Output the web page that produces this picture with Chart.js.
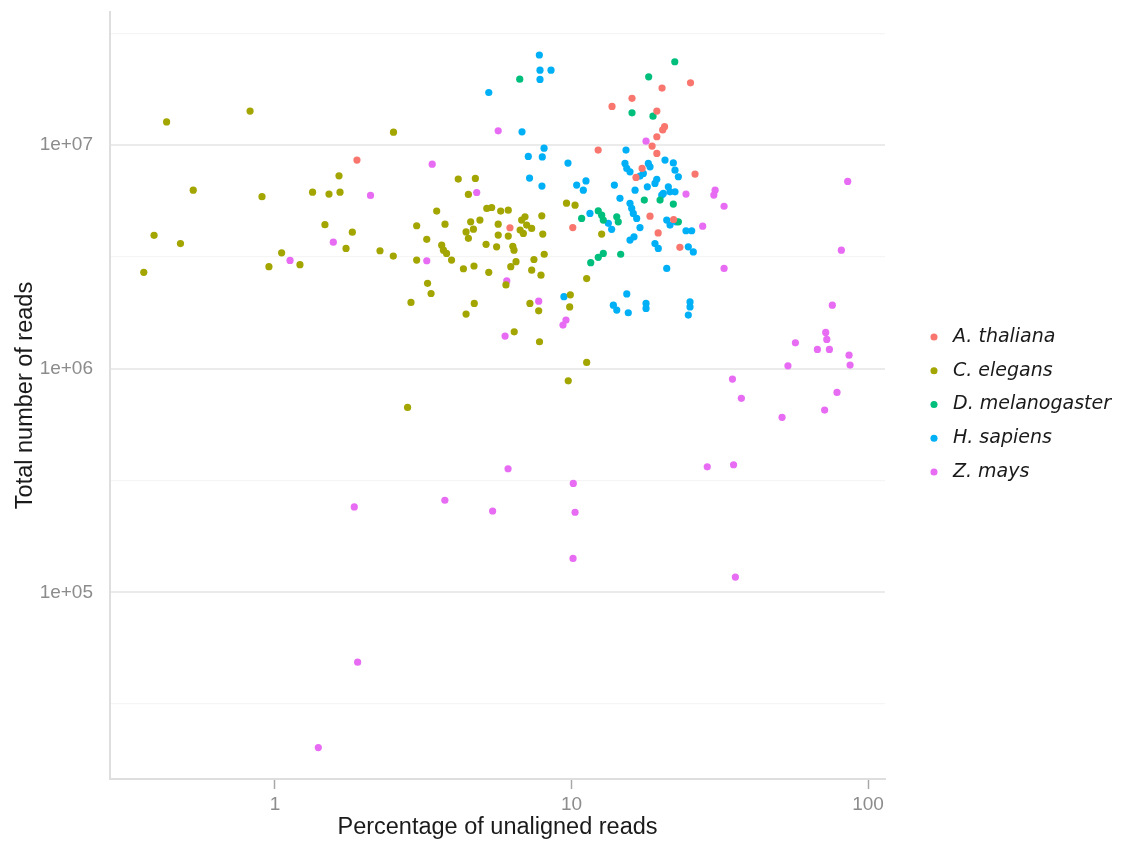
<!DOCTYPE html>
<html>
<head>
<meta charset="utf-8">
<script src="https://cdn.jsdelivr.net/npm/chart.js@4.4.1/dist/chart.umd.min.js"></script>
<style>
html,body{margin:0;padding:0;background:#ffffff;}
#wrap{width:1121px;height:844px;position:relative;}
</style>
</head>
<body>
<div id="wrap"><canvas id="c" width="1121" height="844"></canvas></div>
<script>
// ---------- data ----------
const speciesNames = ['A. thaliana', 'C. elegans', 'D. melanogaster', 'H. sapiens', 'Z. mays'];
const speciesColors = ['#F8766D', '#A3A500', '#00BF7D', '#00B0F6', '#E76BF3'];

const thalianaPct = [1.89, 25.2, 20.2, 16.0, 13.7, 19.4, 20.6, 20.3, 19.4, 18.7, 12.3, 19.4, 17.3, 16.5, 26.1, 18.4, 10.1, 22.1, 19.6, 23.2, 6.20];
const thalianaReads = [8.57e6, 1.90e7, 1.80e7, 1.62e7, 1.49e7, 1.42e7, 1.21e7, 1.17e7, 1.09e7, 9.9e6, 9.5e6, 9.18e6, 7.87e6, 7.17e6, 7.42e6, 4.81e6, 4.28e6, 4.65e6, 4.05e6, 3.49e6, 4.27e6];

const elegansPct = [0.361, 0.391, 0.431, 0.480, 0.530, 0.824, 0.904, 0.954, 1.053, 1.214, 1.339, 1.521, 1.657, 1.644, 1.474, 1.823, 1.736, 2.26, 2.506, 2.51,
  2.80, 9.75, 11.25, 7.80, 6.41, 4.41, 4.70, 2.875, 3.36, 3.27, 7.24, 7.75, 9.86, 9.91, 6.01, 4.15, 4.74, 4.49, 9.62, 10.28,
  3.51, 5.18, 5.38, 5.77, 6.12, 3.005, 3.745, 4.57, 4.91, 4.67, 4.41, 4.49, 5.66, 6.79, 6.97, 7.06, 7.34, 6.71, 6.88, 7.94,
  5.66, 6.12, 8.00, 3.25, 3.65, 3.70, 3.79, 3.94, 3.005, 5.15, 5.59, 6.34, 6.40, 8.09, 7.47, 7.34, 7.89, 6.50, 6.24, 4.32,
  4.69, 5.26, 12.64, 11.25];
const elegansReads = [2.70e6, 3.95e6, 1.27e7, 3.63e6, 6.29e6, 1.42e7, 5.88e6, 2.86e6, 3.30e6, 2.92e6, 6.16e6, 6.04e6, 6.16e6, 7.29e6, 4.41e6, 4.08e6, 3.45e6, 3.37e6, 3.19e6, 1.143e7,
  6.71e5, 8.83e5, 1.067e6, 1.32e6, 1.462e6, 1.755e6, 1.96e6, 1.98e6, 2.17e6, 2.41e6, 1.96e6, 1.815e6, 1.89e6, 2.14e6, 2.37e6, 7.05e6, 7.10e6, 6.02e6, 5.50e6, 5.39e6,
  5.07e6, 5.21e6, 5.26e6, 5.07e6, 5.12e6, 4.36e6, 4.43e6, 4.54e6, 4.62e6, 4.21e6, 4.09e6, 3.83e6, 4.43e6, 4.62e6, 4.78e6, 4.39e6, 4.24e6, 4.17e6, 4.03e6, 4.83e6,
  3.96e6, 3.92e6, 4.00e6, 3.79e6, 3.57e6, 3.39e6, 3.28e6, 3.06e6, 3.06e6, 3.60e6, 3.51e6, 3.53e6, 3.39e6, 3.25e6, 3.08e6, 2.76e6, 2.62e6, 3.01e6, 2.86e6, 2.80e6,
  2.88e6, 2.70e6, 4.00e6, 2.53e6];

const melanogasterPct = [6.69, 22.3, 18.21, 16.0, 18.83, 17.6, 19.89, 22.05, 12.31, 12.64, 12.80, 10.82, 14.21, 14.38, 22.93, 14.65, 12.80, 12.31, 11.61];
const melanogasterReads = [1.973e7, 2.36e7, 2.02e7, 1.395e7, 1.348e7, 5.68e6, 5.68e6, 5.45e6, 5.08e6, 4.86e6, 4.62e6, 4.70e6, 4.78e6, 4.54e6, 4.54e6, 3.25e6, 3.28e6, 3.15e6, 2.98e6];

const sapiensPct = [7.79, 7.83, 8.53, 7.83, 5.26, 6.81, 8.08, 7.97, 7.15, 7.22, 7.95, 9.73, 15.27, 15.15, 15.36, 15.75, 18.16, 18.40, 17.47, 17.02,
  20.67, 22.05, 22.34, 22.93, 19.39, 19.12, 18.02, 10.41, 10.96, 11.19, 13.95, 16.38, 21.21, 21.49, 20.40, 22.34, 14.57, 15.75, 15.96, 16.16,
  16.59, 17.02, 20.15, 11.54, 13.31, 13.66, 20.95, 21.49, 22.5, 24.33, 25.43, 15.75, 16.25, 19.12, 19.62, 24.77, 25.75, 20.95, 15.36, 9.43,
  13.84, 14.21, 15.54, 17.84, 17.84, 25.1, 25.1, 24.77];
const sapiensReads = [2.53e7, 2.165e7, 2.165e7, 1.967e7, 1.72e7, 1.147e7, 9.69e6, 8.86e6, 8.90e6, 7.12e6, 6.56e6, 8.31e6, 9.50e6, 8.28e6, 7.87e6, 7.60e6, 8.28e6, 8.00e6, 7.47e6, 7.27e6,
  8.57e6, 8.33e6, 7.73e6, 7.22e6, 7.03e6, 6.74e6, 6.51e6, 6.63e6, 6.29e6, 6.92e6, 6.63e6, 6.29e6, 6.51e6, 6.18e6, 6.08e6, 6.18e6, 5.78e6, 5.49e6, 5.21e6, 4.95e6,
  4.70e6, 4.28e6, 5.98e6, 4.95e6, 4.47e6, 4.20e6, 4.62e6, 4.39e6, 4.54e6, 4.14e6, 4.14e6, 3.76e6, 3.89e6, 3.63e6, 3.45e6, 3.51e6, 3.33e6, 2.81e6, 2.16e6, 2.10e6,
  1.925e6, 1.83e6, 1.78e6, 1.96e6, 1.86e6, 1.99e6, 1.89e6, 1.737e6];

const maysPct = [5.66, 3.39, 4.79, 2.10, 1.573, 1.124, 3.25, 6.05, 7.75, 9.58, 9.36, 5.97, 17.84, 24.33, 30.5, 30.2, 32.7, 27.7, 32.7, 85.4,
  81.3, 75.8, 72.0, 72.6, 74.1, 67.5, 56.9, 86.3, 87.0, 53.7, 34.9, 37.4, 78.6, 71.4, 51.3, 28.7, 35.2, 6.11, 10.14, 3.74,
  5.42, 10.28, 10.12, 35.7, 1.851, 1.90, 1.40];
const maysReads = [1.159e7, 8.22e6, 6.14e6, 5.96e6, 3.68e6, 3.05e6, 3.04e6, 2.47e6, 2.005e6, 1.65e6, 1.567e6, 1.40e6, 1.042e7, 6.04e6, 6.29e6, 5.98e6, 5.33e6, 4.34e6, 2.81e6, 6.88e6,
  3.39e6, 1.925e6, 1.453e6, 1.352e6, 1.22e6, 1.22e6, 1.305e6, 1.15e6, 1.038e6, 1.03e6, 8.99e5, 7.37e5, 7.83e5, 6.53e5, 6.06e5, 3.64e5, 3.72e5, 3.57e5, 3.07e5, 2.58e5,
  2.31e5, 2.28e5, 1.418e5, 1.17e5, 2.41e5, 4.87e4, 2.02e4];

const xTickValues = [1, 10, 100];
const xTickLabels = ['1', '10', '100'];
const yTickValues = [1e5, 1e6, 1e7];
const yTickLabels = ['1e+05', '1e+06', '1e+07'];
const yMinorValues = [31623, 316228, 3162278, 31622777];
const xRange = [0.2777, 114.1];
const yRange = [14620, 3.94e7];

// ---------- build ----------
const seriesPct = [thalianaPct, elegansPct, melanogasterPct, sapiensPct, maysPct];
const seriesReads = [thalianaReads, elegansReads, melanogasterReads, sapiensReads, maysReads];

const datasets = speciesNames.map((name, s) => ({
  label: name,
  data: seriesPct[s].map((x, i) => ({ x: x, y: seriesReads[s][i] })),
  backgroundColor: speciesColors[s],
  borderColor: speciesColors[s],
  borderWidth: 0,
  pointRadius: 3.6,
  pointHoverRadius: 3.6
}));

const axisFont = 'Liberation Sans, Arial, Helvetica, sans-serif';

const layoutPlugin = {
  id: 'fixedLegendLayout',
  beforeLayout(chart) {
    const lg = chart.legend;
    if (lg && !lg._fixedPatch) {
      const origFit = lg.fit.bind(lg);
      lg.fit = function () { origFit(); this.width = 236; };
      lg._fixedPatch = true;
    }
  },
  afterLayout(chart) {
    const lg = chart.legend;
    if (!lg) return;
    const pad = lg.options.labels.padding;
    lg.left = 934 - 9.5 - pad;
    lg.right = lg.left + 236;
    lg.top = 337 - 9.5 - pad;
    lg.bottom = 844;
  }
};

new Chart(document.getElementById('c'), {
  type: 'scatter',
  data: { datasets: datasets },
  plugins: [layoutPlugin],
  options: {
    responsive: false,
    maintainAspectRatio: false,
    devicePixelRatio: 1,
    animation: false,
    events: [],
    layout: { padding: { top: 12, left: 0, right: 0, bottom: 0 }, autoPadding: false },
    plugins: {
      tooltip: { enabled: false },
      legend: {
        position: 'right',
        align: 'start',
        labels: {
          usePointStyle: true,
          pointStyle: 'circle',
          boxWidth: 19,
          boxHeight: 5,
          padding: 14.75,
          color: '#1a1a1a',
          font: { family: 'DejaVu Sans, Verdana, sans-serif', size: 19, style: 'italic' }
        }
      }
    },
    scales: {
      x: {
        type: 'logarithmic',
        min: xRange[0],
        max: xRange[1],
        afterBuildTicks(scale) { scale.ticks = xTickValues.map(v => ({ value: v })); },
        afterFit(scale) { scale.height = 65; scale.paddingLeft = 0; scale.paddingRight = 0; },
        ticks: {
          autoSkip: false,
          maxRotation: 0,
          padding: 4,
          color: '#8c8c8c',
          font: { family: axisFont, size: 19 },
          callback: (v, i) => xTickLabels[i]
        },
        grid: { drawOnChartArea: false, drawTicks: true, tickLength: 10, tickColor: '#a8a8a8', tickWidth: 1.5 },
        border: { display: true, color: '#dedede', width: 2 },
        title: {
          display: true,
          text: 'Percentage of unaligned reads',
          color: '#1a1a1a',
          font: { family: axisFont, size: 23.5 },
          padding: { top: 0, bottom: 2 }
        }
      },
      y: {
        type: 'logarithmic',
        min: yRange[0],
        max: yRange[1],
        afterBuildTicks(scale) {
          const all = yMinorValues.concat(yTickValues).sort((a, b) => a - b);
          scale.ticks = all.map(v => ({ value: v }));
        },
        afterFit(scale) { scale.width = 110; scale.paddingTop = 0; scale.paddingBottom = 0; },
        ticks: {
          autoSkip: false,
          padding: 17,
          color: '#8c8c8c',
          font: { family: axisFont, size: 19 },
          callback: (v) => { const k = yTickValues.indexOf(v); return k >= 0 ? yTickLabels[k] : ''; }
        },
        grid: {
          drawTicks: false,
          color: (ctx) => (ctx.tick && yTickValues.indexOf(ctx.tick.value) >= 0) ? '#ebebeb' : '#f5f5f5',
          lineWidth: (ctx) => (ctx.tick && yTickValues.indexOf(ctx.tick.value) >= 0) ? 2 : 1.2
        },
        border: { display: true, color: '#dedede', width: 2 },
        title: {
          display: true,
          text: 'Total number of reads',
          color: '#1a1a1a',
          font: { family: axisFont, size: 23.5 },
          padding: { top: 11, bottom: 0 }
        }
      }
    }
  }
});
</script>
</body>
</html>
